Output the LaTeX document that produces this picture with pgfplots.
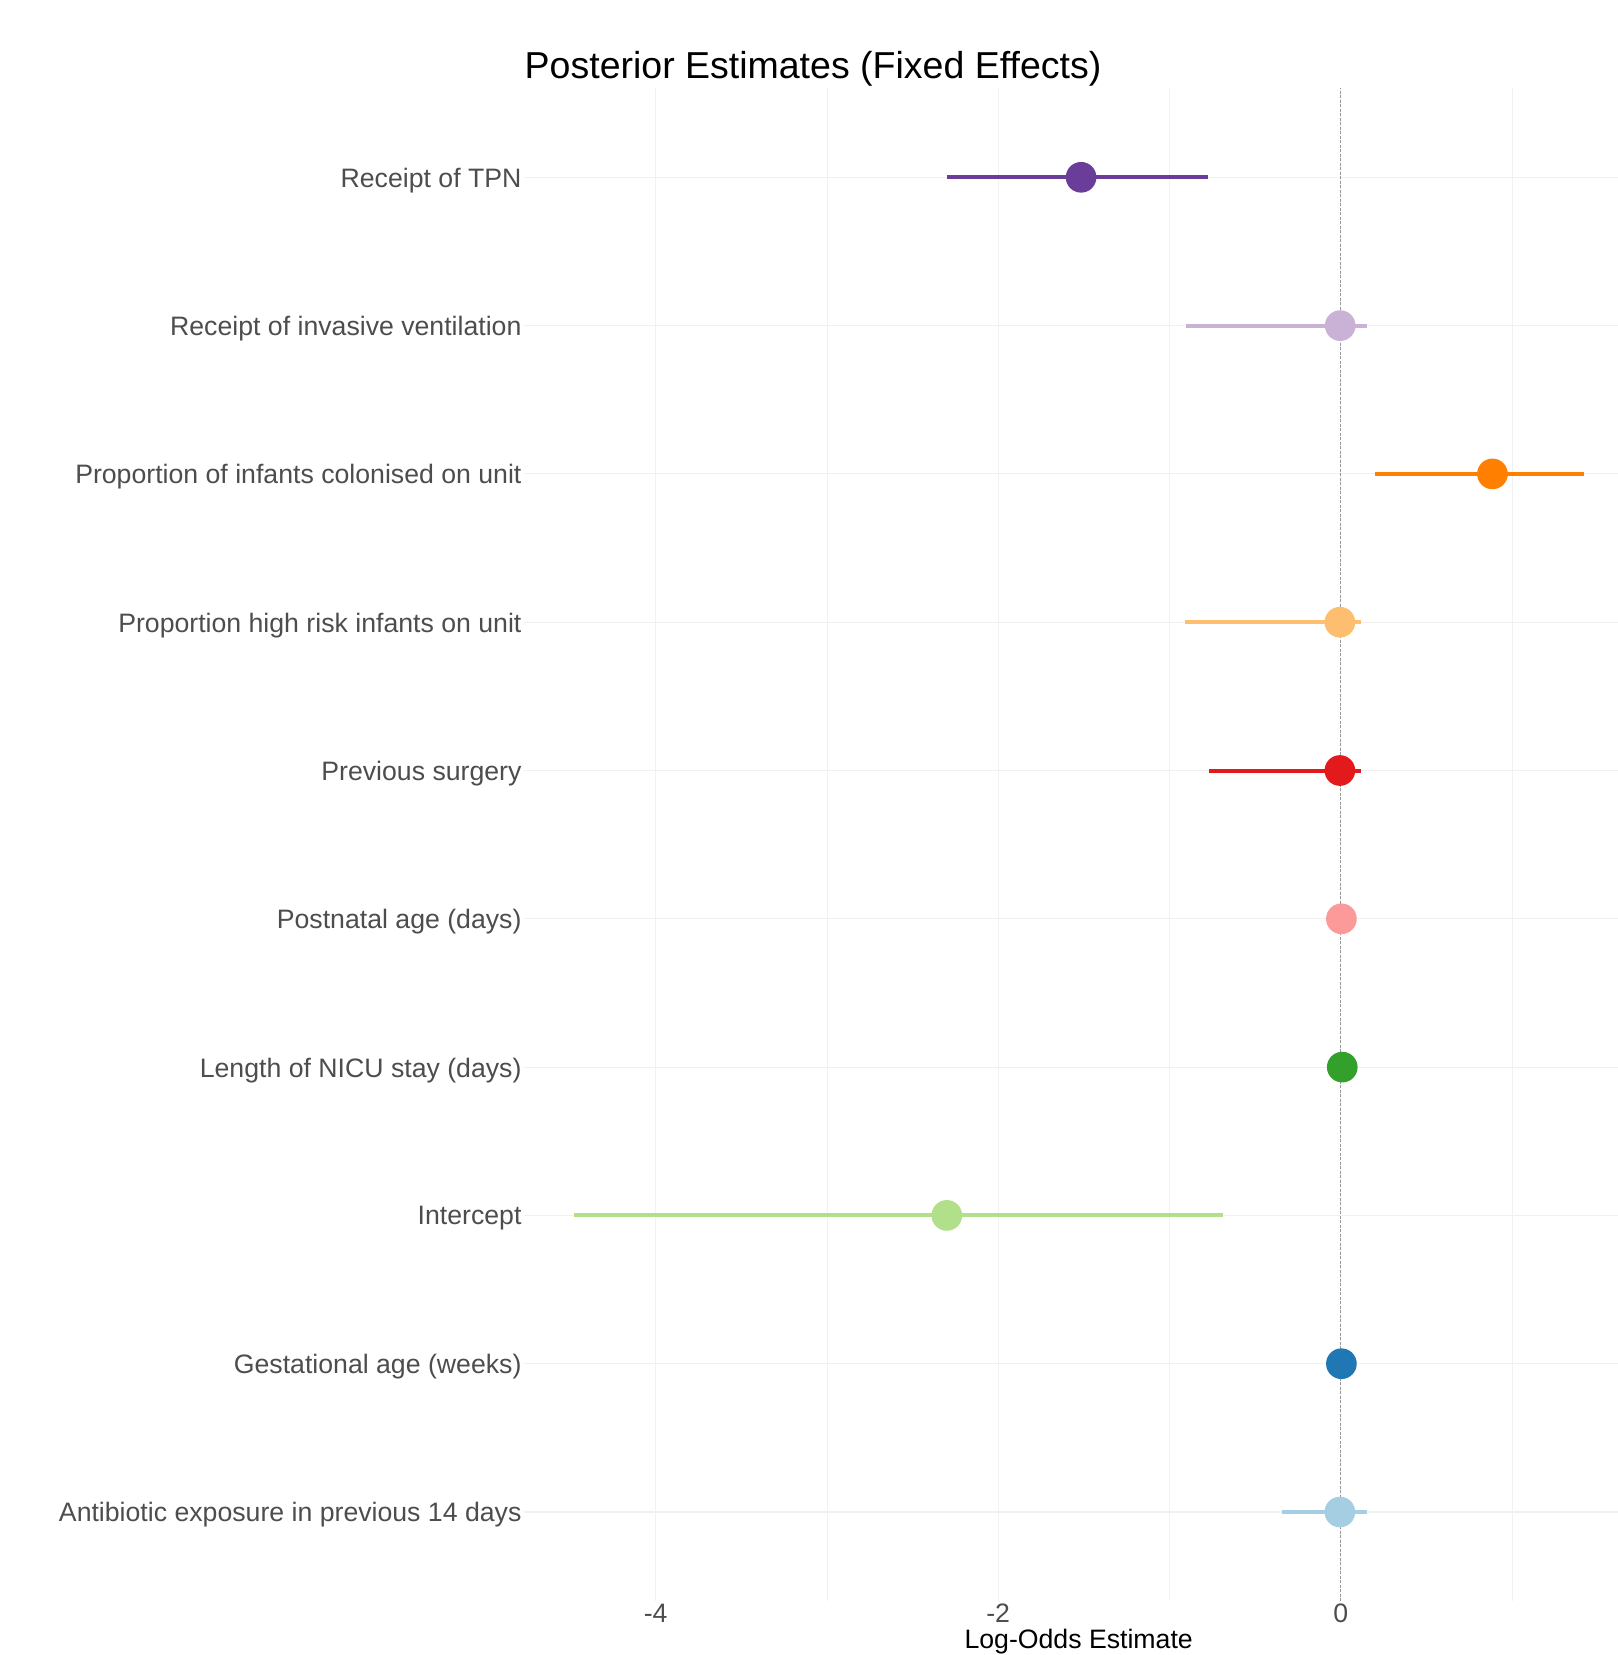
\documentclass[border=0pt]{standalone}
\usepackage{pgfplots}
\pgfplotsset{compat=1.18}
\usepackage{fontspec}
\setmainfont{Liberation Sans}
\definecolor{cA}{HTML}{A6CEE3}
\definecolor{cB}{HTML}{1F78B4}
\definecolor{cC}{HTML}{B2DF8A}
\definecolor{cD}{HTML}{33A02C}
\definecolor{cE}{HTML}{FB9A99}
\definecolor{cF}{HTML}{E31A1C}
\definecolor{cG}{HTML}{FDBF6F}
\definecolor{cH}{HTML}{FF7F00}
\definecolor{cI}{HTML}{CAB2D6}
\definecolor{cJ}{HTML}{6A3D9A}
\definecolor{gridc}{HTML}{F1F1F1}
\definecolor{tickc}{HTML}{4D4D4D}
\begin{document}
\begin{tikzpicture}
\useasboundingbox (0,0) rectangle (485.4pt,496.5pt);
\begin{axis}[
  at={(157.14pt,16.2pt)}, anchor=south west,
  scale only axis, width=328.26pt, height=453.8pt,
  xmin=-4.770, xmax=1.619, ymin=0.4, ymax=10.6,
  axis line style={draw=none},
  major tick length=0pt, minor tick length=0pt,
  xtick={-4,-2,0}, xticklabels={-4,-2,0},
  minor xtick={-3,-1,1},
  ytick={1,...,10},
  yticklabels={Antibiotic exposure in previous 14 days,Gestational age (weeks),Intercept,Length of NICU stay (days),Postnatal age (days),Previous surgery,Proportion high risk infants on unit,Proportion of infants colonised on unit,Receipt of invasive ventilation,Receipt of TPN},
  xmajorgrids, xminorgrids, ymajorgrids,
  major grid style={draw=gridc, line width=0.35pt},
  minor grid style={draw=gridc, line width=0.2pt},
  tick label style={font=\fontsize{8pt}{9.6pt}\selectfont, text=tickc},
  yticklabel style={anchor=east, inner sep=0pt, xshift=-0.5pt, yshift=-0.9pt},
  xticklabel style={anchor=center, inner sep=0pt, yshift=-3.8pt},
  clip=false,
]
% intervals
\addplot[cA, line width=1.2pt] coordinates {(-0.34,1) (0.152,1)};
\addplot[cB, line width=1.2pt] coordinates {(-0.01,2) (0.015,2)};
\addplot[cC, line width=1.2pt] coordinates {(-4.475,3) (-0.686,3)};
\addplot[cD, line width=1.2pt] coordinates {(-0.005,4) (0.02,4)};
\addplot[cE, line width=1.2pt] coordinates {(-0.01,5) (0.02,5)};
\addplot[cF, line width=1.2pt] coordinates {(-0.772,6) (0.121,6)};
\addplot[cG, line width=1.2pt] coordinates {(-0.907,7) (0.117,7)};
\addplot[cH, line width=1.2pt] coordinates {(0.201,8) (1.421,8)};
\addplot[cI, line width=1.2pt] coordinates {(-0.904,9) (0.152,9)};
\addplot[cJ, line width=1.2pt] coordinates {(-2.30,10) (-0.777,10)};
% estimates
\addplot[only marks, mark=*, mark size=4.4pt, color=cA] coordinates {(-0.005,1)};
\addplot[only marks, mark=*, mark size=4.4pt, color=cB] coordinates {(0.004,2)};
\addplot[only marks, mark=*, mark size=4.4pt, color=cC] coordinates {(-2.30,3)};
\addplot[only marks, mark=*, mark size=4.4pt, color=cD] coordinates {(0.009,4)};
\addplot[only marks, mark=*, mark size=4.4pt, color=cE] coordinates {(0.004,5)};
\addplot[only marks, mark=*, mark size=4.4pt, color=cF] coordinates {(-0.005,6)};
\addplot[only marks, mark=*, mark size=4.4pt, color=cG] coordinates {(-0.005,7)};
\addplot[only marks, mark=*, mark size=4.4pt, color=cH] coordinates {(0.886,8)};
\addplot[only marks, mark=*, mark size=4.4pt, color=cI] coordinates {(-0.003,9)};
\addplot[only marks, mark=*, mark size=4.4pt, color=cJ] coordinates {(-1.516,10)};
% reference line
\addplot[black!40, line width=0.45pt, dash pattern=on 0.9pt off 0.45pt] coordinates {(0,0.4) (0,10.6)};
\end{axis}
\node[font=\fontsize{11.25pt}{13.5pt}\selectfont, anchor=center] at (243.9pt,475.9pt) {Posterior Estimates (Fixed Effects)};
\node[font=\fontsize{8pt}{9.6pt}\selectfont, anchor=center] at (323.6pt,3.9pt) {Log-Odds Estimate};
\end{tikzpicture}
\end{document}
